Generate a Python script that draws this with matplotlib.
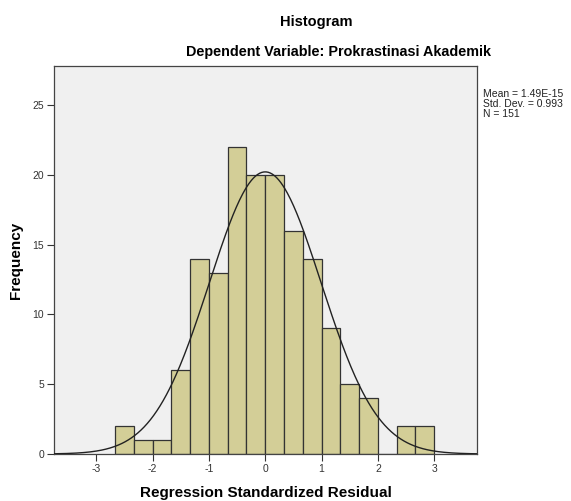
import numpy as np
import matplotlib.pyplot as plt

# bin edges (width 1/3) and counts
bin_edges = np.arange(-8, 10) / 3.0
counts = [2, 1, 1, 6, 14, 13, 22, 20, 20, 16, 14, 9, 5, 4, 0, 2, 2]

mean = 1.49e-15
std = 0.993
n = 151

plt.rcParams['font.family'] = ['Liberation Sans', 'DejaVu Sans']
plt.rcParams['axes.unicode_minus'] = False

fig = plt.figure(figsize=(5.71, 5.01), dpi=100)
ax = fig.add_axes([0.0946, 0.0938, 0.7408, 0.7742])
ax.set_facecolor('#f0f0f0')

widths = np.diff(bin_edges)
ax.bar(bin_edges[:-1], counts, width=widths, align='edge',
       color='#d3ce97', edgecolor='#333333', linewidth=0.9, zorder=2)

# normal curve scaled to the histogram
x = np.linspace(-3.75, 3.76, 400)
bw = widths[0]
y = n * bw / (std * np.sqrt(2 * np.pi)) * np.exp(-0.5 * ((x - mean) / std) ** 2)
ax.plot(x, y, color='#222222', linewidth=1.0, zorder=3)

ax.set_xlim(-3.75, 3.76)
ax.set_ylim(0, 27.8)
ax.set_xticks([-3, -2, -1, 0, 1, 2, 3])
ax.set_yticks([0, 5, 10, 15, 20, 25])
ax.tick_params(labelsize=7.5, labelcolor='#333333', color='#333333',
               length=5, width=0.8, direction='out', pad=2)
for s in ax.spines.values():
    s.set_color('#444444')
    s.set_linewidth(0.9)

ax.set_xlabel('Regression Standardized Residual', fontsize=11, fontweight='bold')
ax.xaxis.set_label_coords(0.5, -(493 - 454) / 388, transform=ax.transAxes)
ax.xaxis.label.set_va('center')
ax.set_ylabel('Frequency', fontsize=11, fontweight='bold')
ax.yaxis.set_label_coords(-(54 - 16) / 423, 0.5)
ax.yaxis.label.set_va('center')

fig.text(316 / 571, 1 - 22 / 501, 'Histogram', ha='center', va='center',
         fontsize=10.5, fontweight='bold')
fig.text(338 / 571, 1 - 52 / 501, 'Dependent Variable: Prokrastinasi Akademik',
         ha='center', va='center', fontsize=10.4, fontweight='bold')

fig.text(483 / 571, 1 - 89 / 501,
         'Mean = 1.49E-15\nStd. Dev. = 0.993\nN = 151',
         ha='left', va='top', fontsize=7.5, color='#222222', linespacing=1.0)

fig.savefig('out.png', dpi=100)
